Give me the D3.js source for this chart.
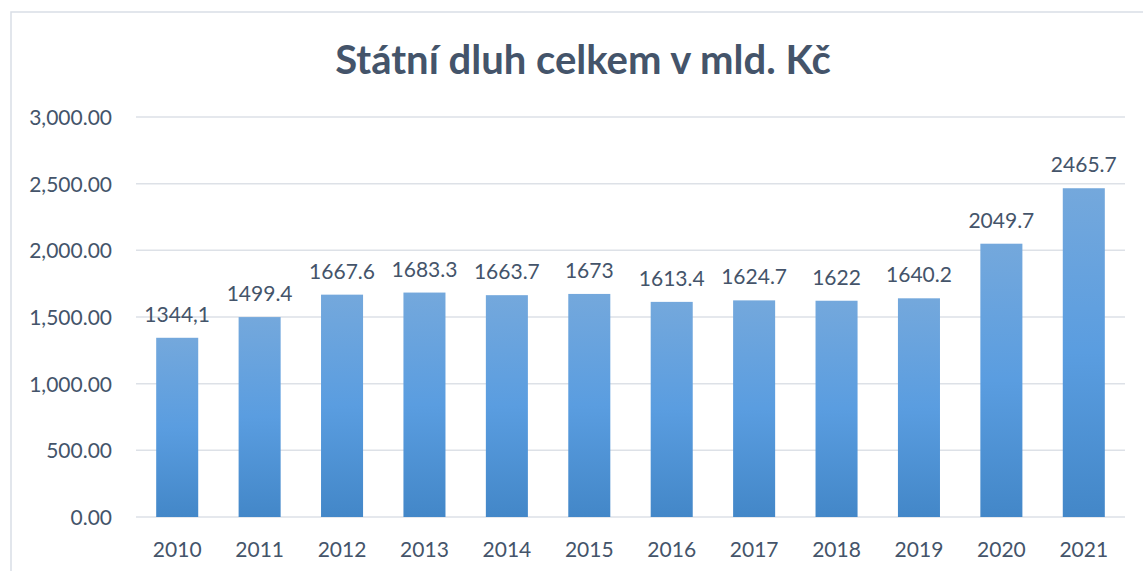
<!DOCTYPE html>
<html lang="cs">
<head>
<meta charset="UTF-8">
<script src="https://d3js.org/d3.v7.min.js"></script>
<style>
  body { margin: 0; background: #fff; }
  svg text { font-family: Lato, "Noto Sans", sans-serif; fill: #44546a; }
</style>
</head>
<body>
<svg width="1143" height="571"></svg>
<script>
// data
var years = ["2010", "2011", "2012", "2013", "2014", "2015", "2016", "2017", "2018", "2019", "2020", "2021"];
var debt = [1344.1, 1499.4, 1667.6, 1683.3, 1663.7, 1673, 1613.4, 1624.7, 1622, 1640.2, 2049.7, 2465.7];
var debtLabels = ["1344,1", "1499.4", "1667.6", "1683.3", "1663.7", "1673", "1613.4", "1624.7", "1622", "1640.2", "2049.7", "2465.7"];
var yTicks = [0, 500, 1000, 1500, 2000, 2500, 3000];

var svg = d3.select("svg");

// outer chart border (cut off at right/bottom)
svg.append("path")
  .attr("d", "M11,571 L11,12 L1143,12")
  .attr("fill", "none")
  .attr("stroke", "#d9dee6")
  .attr("stroke-width", 1.5);

// plot area (window.top is reserved, so other names)
var plotL = 136, plotR = 1125, plotT = 117, plotB = 517;

var x = d3.scaleBand().domain(years).range([plotL, plotR]).paddingInner(0.49).paddingOuter(0.245);
var y = d3.scaleLinear().domain([0, 3000]).range([plotB, plotT]);

// gradient for bars
var grad = svg.append("defs").append("linearGradient")
  .attr("id", "barGrad")
  .attr("x1", 0).attr("y1", 0).attr("x2", 0).attr("y2", 1);
grad.append("stop").attr("offset", "0%").attr("stop-color", "#74a8dc");
grad.append("stop").attr("offset", "50%").attr("stop-color", "#5a9de0");
grad.append("stop").attr("offset", "100%").attr("stop-color", "#4387c8");

// gridlines
svg.append("g")
  .selectAll("line")
  .data(yTicks)
  .enter().append("line")
  .attr("x1", plotL).attr("x2", plotR)
  .attr("y1", function(d) { return y(d); })
  .attr("y2", function(d) { return y(d); })
  .attr("stroke", "#dde1e7")
  .attr("stroke-width", 1.5);

// y axis labels
var fmt = d3.format(",.2f");
var yAxis = d3.axisLeft(y).tickValues(yTicks).tickFormat(fmt).tickSize(0).tickPadding(0);
var yg = svg.append("g").attr("transform", "translate(112,0)").call(yAxis);
yg.select(".domain").remove();
yg.selectAll("text")
  .style("font-size", "21px")
  .attr("dy", "0.35em")
  .attr("fill", "#44546a");

// x axis labels
var xAxis = d3.axisBottom(x).tickSize(0).tickPadding(0);
var xg = svg.append("g").attr("transform", "translate(0," + plotB + ")").call(xAxis);
xg.select(".domain").remove();
xg.selectAll("text")
  .style("font-size", "21px")
  .attr("dy", null)
  .attr("y", 40)
  .attr("fill", "#44546a");

// bars
svg.append("g")
  .selectAll("rect")
  .data(debt)
  .enter().append("rect")
  .attr("x", function(d, i) { return x(years[i]); })
  .attr("y", function(d) { return y(d); })
  .attr("width", x.bandwidth())
  .attr("height", function(d) { return plotB - y(d); })
  .attr("fill", "url(#barGrad)");

// data labels
svg.append("g")
  .selectAll("text")
  .data(debt)
  .enter().append("text")
  .attr("x", function(d, i) { return x(years[i]) + x.bandwidth() / 2; })
  .attr("y", function(d) { return y(d) - 16; })
  .attr("text-anchor", "middle")
  .style("font-size", "21px")
  .text(function(d, i) { return debtLabels[i]; });

// title
svg.append("text")
  .attr("x", 583)
  .attr("y", 74)
  .attr("text-anchor", "middle")
  .style("font-size", "40px")
  .style("font-weight", "bold")
  .text("Státní dluh celkem v mld. Kč");
</script>
</body>
</html>
